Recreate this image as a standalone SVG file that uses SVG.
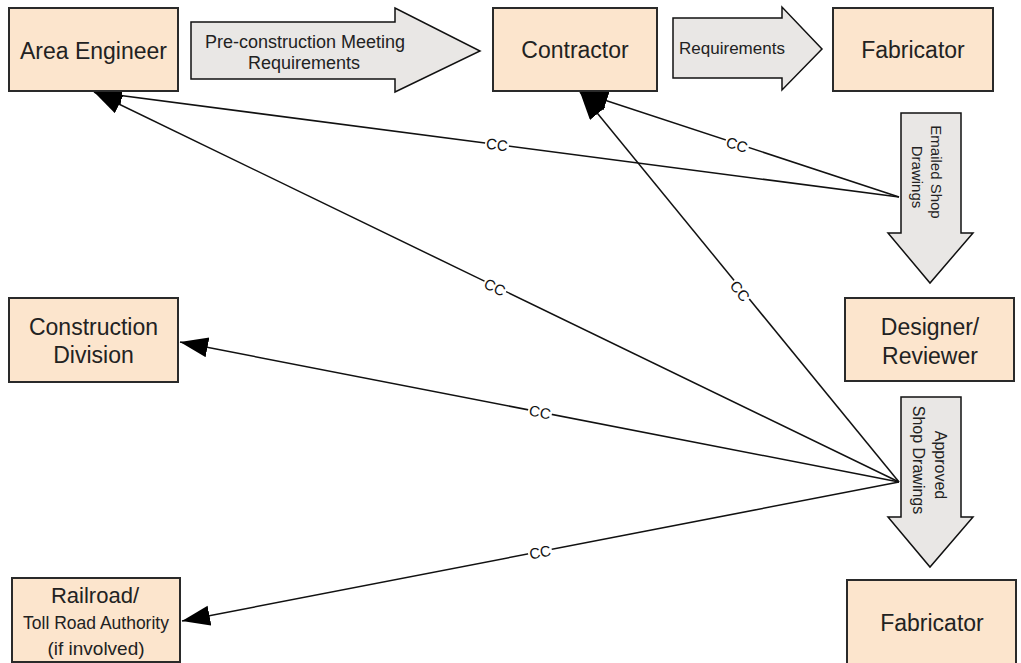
<svg xmlns="http://www.w3.org/2000/svg" width="1021" height="663" viewBox="0 0 1021 663">
<style>
.box{fill:#FCE5CD;stroke:#2a2a2a;stroke-width:2}
.blk{fill:#E9E7E5;stroke:#111;stroke-width:1.5;stroke-linejoin:miter}
.t{font-family:"Liberation Sans",Arial,sans-serif;fill:#222;text-anchor:middle;dominant-baseline:central}
.cn{stroke:#111;stroke-width:1.5;fill:none;marker-end:url(#ah)}
.cc{font-family:"Liberation Sans",Arial,sans-serif;font-size:15px;fill:#111;text-anchor:middle;dominant-baseline:central}
.ccb{fill:#fff}
</style>
<defs>
<marker id="ah" markerUnits="userSpaceOnUse" markerWidth="30" markerHeight="22" refX="28" refY="10" orient="auto">
<path d="M0,0 L28,10 L0,20 z" fill="#000"/>
</marker>
</defs>
<rect width="1021" height="663" fill="#fff"/>

<g id="connectors">
<line class="cn" x1="899" y1="197" x2="94" y2="92"/>
<line class="cn" x1="899" y1="197" x2="580" y2="92"/>
<line class="cn" x1="899" y1="482" x2="94" y2="92"/>
<line class="cn" x1="899" y1="482" x2="580" y2="92"/>
<line class="cn" x1="899" y1="482" x2="180" y2="342"/>
<line class="cn" x1="899" y1="482" x2="182" y2="621"/>
<g transform="translate(497,144.5) rotate(7.4)"><rect class="ccb" x="-12" y="-6" width="24" height="12"/><text class="cc">CC</text></g>
<g transform="translate(737,144.5) rotate(18)"><rect class="ccb" x="-12" y="-6" width="24" height="12"/><text class="cc">CC</text></g>
<g transform="translate(495,287) rotate(25.9)"><rect class="ccb" x="-12" y="-6" width="24" height="12"/><text class="cc">CC</text></g>
<g transform="translate(740,291) rotate(50.6)"><rect class="ccb" x="-12" y="-6" width="24" height="12"/><text class="cc">CC</text></g>
<g transform="translate(540,412) rotate(11)"><rect class="ccb" x="-12" y="-6" width="24" height="12"/><text class="cc">CC</text></g>
<g transform="translate(540,552) rotate(-11)"><rect class="ccb" x="-12" y="-6" width="24" height="12"/><text class="cc">CC</text></g>
</g>

<g id="area-engineer">
<rect class="box" x="9" y="8" width="169" height="83"/>
<text class="t" x="93.5" y="51" font-size="23">Area Engineer</text>
</g>
<g id="arrow-preconstruction">
<polygon class="blk" points="191,22 395,22 395,8 480,51 395,92 395,79 191,79"/>
<text class="t" x="305" y="42" font-size="18">Pre-construction Meeting</text>
<text class="t" x="304" y="63" font-size="18">Requirements</text>
</g>
<g id="contractor">
<rect class="box" x="493" y="8" width="164" height="83"/>
<text class="t" x="575" y="50" font-size="23">Contractor</text>
</g>
<g id="arrow-requirements">
<polygon class="blk" points="673,18 782,18 782,7 822,49 782,90 782,78 673,78"/>
<text class="t" x="732" y="48" font-size="17">Requirements</text>
</g>
<g id="fabricator-top">
<rect class="box" x="833" y="8" width="160" height="83"/>
<text class="t" x="913" y="50" font-size="23">Fabricator</text>
</g>
<g id="arrow-emailed">
<polygon class="blk" points="901,113 961,113 961,233 973,233 930,283 888,233 901,233"/>
<text class="t" transform="translate(936,172) rotate(90)" font-size="15">Emailed Shop</text>
<text class="t" transform="translate(917,177) rotate(90)" font-size="15">Drawings</text>
</g>
<g id="designer-reviewer">
<rect class="box" x="845" y="298" width="169" height="83"/>
<text class="t" x="930" y="327" font-size="23">Designer/</text>
<text class="t" x="930" y="356" font-size="23">Reviewer</text>
</g>
<g id="arrow-approved">
<polygon class="blk" points="901,397 961,397 961,517 973,517 930,567 888,517 901,517"/>
<text class="t" transform="translate(940,465) rotate(90)" font-size="16">Approved</text>
<text class="t" transform="translate(918,460) rotate(90)" font-size="16">Shop Drawings</text>
</g>
<g id="fabricator-bottom">
<rect class="box" x="847" y="580" width="169" height="90"/>
<text class="t" x="932" y="623" font-size="23">Fabricator</text>
</g>
<g id="construction-division">
<rect class="box" x="9" y="298" width="169" height="84"/>
<text class="t" x="93.5" y="327" font-size="23">Construction</text>
<text class="t" x="93.5" y="355" font-size="23">Division</text>
</g>
<g id="railroad">
<rect class="box" x="12" y="578" width="168" height="84"/>
<text class="t" x="95" y="595" font-size="22">Railroad/</text>
<text class="t" x="96" y="623" font-size="17.5">Toll Road Authority</text>
<text class="t" x="96" y="648" font-size="19">(if involved)</text>
</g>
</svg>
